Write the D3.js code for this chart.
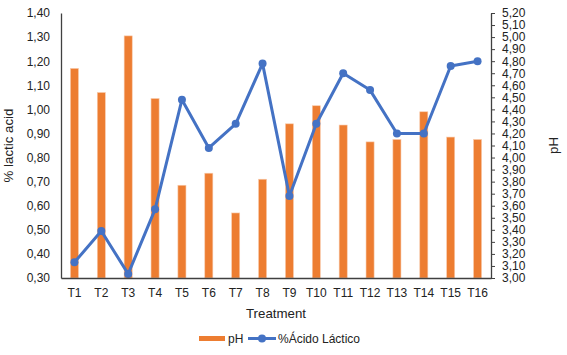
<!DOCTYPE html>
<html lang="en">
<head>
    <meta charset="UTF-8">
    <title>pH and lactic acid by treatment</title>
    <script src="https://d3js.org/d3.v7.min.js"></script>
    <style>
        body { margin: 0; background: #fff; font-family: "Liberation Sans", Arial, sans-serif; }
        svg text { fill: #222; }
    </style>
</head>
<body>
    <div id="chart"></div>
    <script>
        // values
        const treatments = ['T1','T2','T3','T4','T5','T6','T7','T8','T9','T10','T11','T12','T13','T14','T15','T16'];
        const phValues = [4.74, 4.54, 5.01, 4.49, 3.77, 3.87, 3.54, 3.82, 4.28, 4.43, 4.27, 4.13, 4.15, 4.38, 4.17, 4.15];
        const lacticValues = [0.365, 0.495, 0.317, 0.585, 1.04, 0.84, 0.94, 1.19, 0.64, 0.94, 1.15, 1.08, 0.90, 0.90, 1.18, 1.20];
        const leftTicks = d3.range(0.30, 1.401, 0.10);
        const rightTicks = d3.range(3.00, 5.201, 0.10);

        const width = 567, height = 355;
        const margin = {top: 13, right: 76, bottom: 77, left: 61};
        const innerW = width - margin.left - margin.right;
        const innerH = height - margin.top - margin.bottom;
        const fmt = d => d3.format('.2f')(d).replace('.', ',');

        const svg = d3.select('#chart').append('svg')
            .attr('width', width)
            .attr('height', height);

        const g = svg.append('g')
            .attr('transform', `translate(${margin.left},${margin.top})`);

        const x = d3.scaleBand().domain(treatments).range([0, innerW]).padding(0);
        const yLeft = d3.scaleLinear().domain([0.30, 1.40]).range([innerH, 0]);
        const yRight = d3.scaleLinear().domain([3.00, 5.20]).range([innerH, 0]);
        const barW = x.bandwidth() * 0.3;

        // bars (pH, right axis)
        g.selectAll('rect.bar')
            .data(phValues)
            .enter()
            .append('rect')
            .attr('class', 'bar')
            .attr('x', (d, i) => x(treatments[i]) + (x.bandwidth() - barW) / 2)
            .attr('y', d => yRight(d))
            .attr('width', barW)
            .attr('height', d => innerH - yRight(d))
            .attr('fill', '#ED7D31')
            .attr('stroke', '#F8CBAD')
            .attr('stroke-width', 0.6);

        // line (% lactic acid, left axis)
        const line = d3.line()
            .x((d, i) => x(treatments[i]) + x.bandwidth() / 2)
            .y(d => yLeft(d));

        g.append('path')
            .datum(lacticValues)
            .attr('d', line)
            .attr('fill', 'none')
            .attr('stroke', '#4472C4')
            .attr('stroke-width', 3)
            .attr('stroke-linejoin', 'round');

        g.selectAll('circle.pt')
            .data(lacticValues)
            .enter()
            .append('circle')
            .attr('class', 'pt')
            .attr('cx', (d, i) => x(treatments[i]) + x.bandwidth() / 2)
            .attr('cy', d => yLeft(d))
            .attr('r', 4)
            .attr('fill', '#4472C4');

        // left axis
        const leftAxis = g.append('g')
            .call(d3.axisLeft(yLeft).tickValues(leftTicks).tickFormat(fmt).tickSize(0).tickPadding(11));
        leftAxis.select('.domain').attr('stroke', '#404040').attr('stroke-width', 1.3);
        leftAxis.selectAll('text').style('font-size', '12px').style('font-family', '"Liberation Sans", Arial, sans-serif').attr('fill', '#222');

        // right axis
        const rightAxis = g.append('g')
            .attr('transform', `translate(${innerW},0)`)
            .call(d3.axisRight(yRight).tickValues(rightTicks).tickFormat(fmt).tickSizeInner(4).tickSizeOuter(0).tickPadding(7));
        rightAxis.select('.domain').attr('stroke', '#404040').attr('stroke-width', 1.3);
        rightAxis.selectAll('line').attr('stroke', '#404040');
        rightAxis.selectAll('text').style('font-size', '12px').style('font-family', '"Liberation Sans", Arial, sans-serif').attr('fill', '#222');

        // bottom axis
        const bottomAxis = g.append('g')
            .attr('transform', `translate(0,${innerH})`)
            .call(d3.axisBottom(x).tickSize(0).tickPadding(10));
        bottomAxis.select('.domain').attr('stroke', '#404040').attr('stroke-width', 1.3);
        bottomAxis.selectAll('text').style('font-size', '12px').style('font-family', '"Liberation Sans", Arial, sans-serif').attr('fill', '#222');

        // titles
        svg.append('text')
            .attr('transform', `translate(8,${margin.top + innerH / 2}) rotate(-90)`)
            .attr('text-anchor', 'middle')
            .attr('dy', '0.35em')
            .style('font-size', '13.3px')
            .text('% lactic acid');

        svg.append('text')
            .attr('transform', `translate(553,${margin.top + innerH / 2}) rotate(-90)`)
            .attr('text-anchor', 'middle')
            .attr('dy', '0.35em')
            .style('font-size', '13.3px')
            .text('pH');

        svg.append('text')
            .attr('x', margin.left + innerW / 2)
            .attr('y', 313)
            .attr('text-anchor', 'middle')
            .attr('dy', '0.35em')
            .style('font-size', '13.3px')
            .text('Treatment');

        // legend
        const legend = svg.append('g').attr('transform', 'translate(0,338.5)');
        legend.append('rect')
            .attr('x', 199).attr('y', -2.5).attr('width', 26).attr('height', 5)
            .attr('fill', '#ED7D31');
        legend.append('text')
            .attr('x', 228).attr('dy', '0.35em')
            .style('font-size', '12px')
            .text('pH');
        legend.append('line')
            .attr('x1', 248).attr('x2', 276).attr('y1', 0).attr('y2', 0)
            .attr('stroke', '#4472C4').attr('stroke-width', 3);
        legend.append('circle')
            .attr('cx', 262).attr('cy', 0).attr('r', 4)
            .attr('fill', '#4472C4');
        legend.append('text')
            .attr('x', 278).attr('dy', '0.35em')
            .style('font-size', '12px')
            .text('%Ácido Láctico');
    </script>
</body>
</html>
